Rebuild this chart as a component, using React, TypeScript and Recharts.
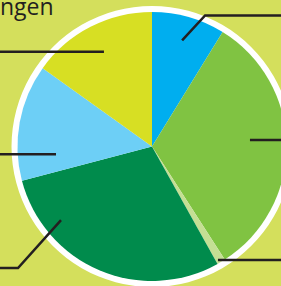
import { PieChart, Pie, Cell } from 'recharts';

const categories = ['A', 'B', 'C', 'D', 'E', 'F'];
const shares = [8.8, 32.1, 1.0, 29.0, 14.0, 15.1];
const sliceColors = ['#00aeef', '#80c342', '#c5df94', '#008b4c', '#6dcff6', '#d7df23'];
const titleText = 'ngen';

// leader line per slice: angle offset from slice middle (deg, clockwise), radius fraction, optional elbow, side
const leaders = [
  { dA: 0, rf: 0.82, elbow: [23, -25], side: 'right' },
  { dA: -3.3, rf: 0.73, elbow: null, side: 'right' },
  { dA: 0.8, rf: 0.976, elbow: null, side: 'right' },
  { dA: 28, rf: 0.87, elbow: [-43, 48], side: 'left' },
  { dA: -15, rf: 0.716, elbow: null, side: 'left' },
  { dA: 0.3, rf: 0.79, elbow: null, side: 'left' },
];

const W = 281;
const H = 286;

const data = categories.map((name, i) => ({ name, value: shares[i] }));

const renderLeader = (props: any) => {
  const { cx, cy, midAngle, outerRadius, index } = props;
  const l = leaders[index];
  const cw = ((90 - midAngle + l.dA) * Math.PI) / 180;
  const r = outerRadius * l.rf;
  const x1 = cx + r * Math.sin(cw);
  const y1 = cy - r * Math.cos(cw);
  const pts = [[x1, y1]];
  let ex = x1;
  let ey = y1;
  if (l.elbow) {
    ex = x1 + l.elbow[0];
    ey = y1 + l.elbow[1];
    pts.push([ex, ey]);
  }
  pts.push([l.side === 'right' ? W + 10 : -10, ey]);
  return (
    <polyline
      key={'ld' + index}
      points={pts.map((p) => p.join(',')).join(' ')}
      fill="none"
      stroke="#231f20"
      strokeWidth={2.5}
    />
  );
};

export default function App() {
  return (
    <div
      style={{
        position: 'fixed',
        top: 0,
        left: 0,
        width: W,
        height: H,
        background: '#d4df5c',
        overflow: 'hidden',
      }}
    >
      <div
        style={{
          position: 'absolute',
          left: 0,
          top: 0,
          fontFamily: '"Open Sans", sans-serif',
          fontSize: 23,
          color: '#231f20',
          lineHeight: '13px',
        }}
      >
        {titleText}
      </div>
      <PieChart width={W} height={H} margin={{ top: 0, right: 0, bottom: 0, left: 0 }} style={{ position: 'absolute', top: 0, left: 0 }}>
        <Pie
          data={[{ name: 'ring', value: 1 }]}
          dataKey="value"
          cx={152}
          cy={146.5}
          outerRadius={140.5}
          fill="#ffffff"
          stroke="none"
          isAnimationActive={false}
        />
        <Pie
          data={data}
          dataKey="value"
          cx={152}
          cy={146.5}
          outerRadius={134.5}
          startAngle={90}
          endAngle={-270}
          stroke="none"
          label={renderLeader}
          labelLine={false}
          isAnimationActive={false}
        >
          {data.map((d, i) => (
            <Cell key={d.name} fill={sliceColors[i]} />
          ))}
        </Pie>
      </PieChart>
    </div>
  );
}
